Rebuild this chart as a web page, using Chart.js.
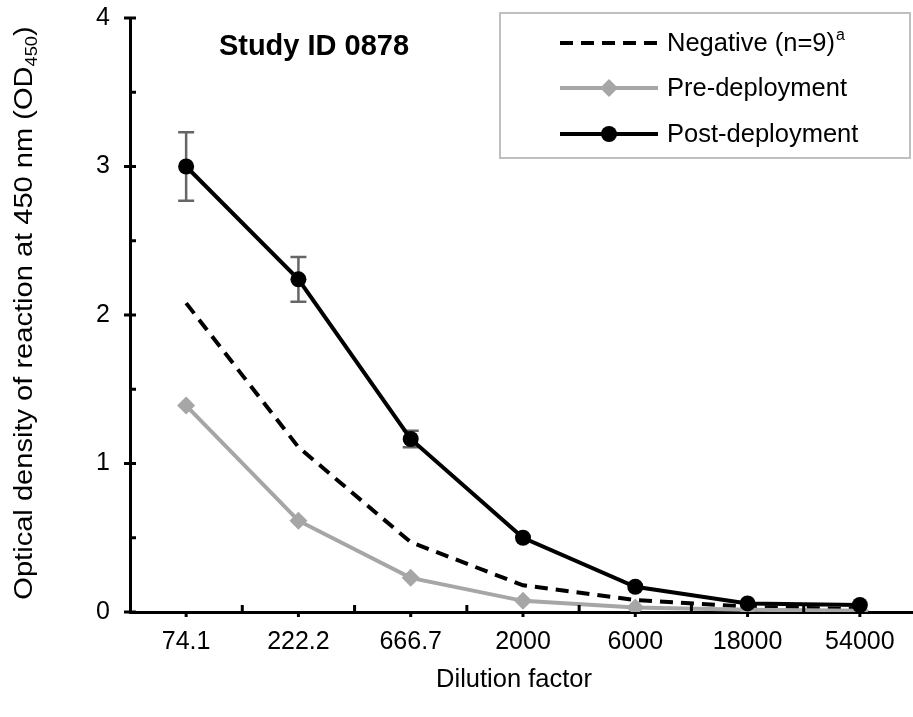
<!DOCTYPE html>
<html>
<head>
<meta charset="utf-8">
<script src="https://cdn.jsdelivr.net/npm/chart.js@4"></script>
<style>
  html, body { margin: 0; padding: 0; background: #fff; overflow: hidden; }
</style>
</head>
<body>
<canvas id="odChart" width="925" height="717"></canvas>
<script>
const categories = ['74.1', '222.2', '666.7', '2000', '6000', '18000', '54000'];
const negative = [2.08, 1.11, 0.47, 0.18, 0.08, 0.035, 0.02];
const preDeployment = [1.39, 0.615, 0.23, 0.075, 0.03, 0.015, 0.008];
const postDeployment = [3.00, 2.24, 1.165, 0.50, 0.17, 0.058, 0.047];
const postError = [0.23, 0.15, 0.055, 0, 0, 0, 0];
const yTicks = [0, 1, 2, 3, 4];

const FONT = '"Liberation Sans", Arial, sans-serif';

function drawText(ctx, text, x, y, font, align) {
  ctx.font = font;
  ctx.textAlign = align || 'center';
  ctx.textBaseline = 'middle';
  ctx.fillText(text, x, y);
}

// error bars behind the post-deployment line
const errorBars = {
  id: 'errorBars',
  beforeDatasetsDraw(chart) {
    const ctx = chart.ctx;
    const x = chart.scales.x, y = chart.scales.y;
    ctx.save();
    ctx.strokeStyle = '#666666';
    ctx.lineWidth = 2.5;
    postDeployment.forEach(function (v, i) {
      const e = postError[i];
      if (!e) return;
      const px = x.getPixelForValue(i);
      const top = y.getPixelForValue(v + e), bot = y.getPixelForValue(v - e);
      ctx.beginPath();
      ctx.moveTo(px, top); ctx.lineTo(px, bot);
      ctx.moveTo(px - 8, top); ctx.lineTo(px + 8, top);
      ctx.moveTo(px - 8, bot); ctx.lineTo(px + 8, bot);
      ctx.stroke();
    });
    ctx.restore();
  }
};

const decorations = {
  id: 'decorations',
  afterDraw(chart) {
    const ctx = chart.ctx;
    const area = chart.chartArea;
    const x = chart.scales.x, y = chart.scales.y;
    ctx.save();
    ctx.strokeStyle = '#000';
    ctx.lineWidth = 3;
    ctx.beginPath();
    // y ticks: major cross the axis, minor inside
    for (let v = 0; v <= 4; v += 0.5) {
      const py = y.getPixelForValue(v);
      const major = Number.isInteger(v);
      ctx.moveTo(area.left - (major ? 6 : 0), py);
      ctx.lineTo(area.left + 6, py);
    }
    // x ticks: boundaries up, centers down
    const half = (x.getPixelForValue(1) - x.getPixelForValue(0)) / 2;
    for (let i = 0; i < categories.length; i++) {
      const c = x.getPixelForValue(i);
      ctx.moveTo(c, area.bottom); ctx.lineTo(c, area.bottom + 5);
      ctx.moveTo(c + half, area.bottom); ctx.lineTo(c + half, area.bottom - 7);
    }
    ctx.stroke();

    ctx.fillStyle = '#000';
    // tick labels
    categories.forEach(function (lab, i) {
      drawText(ctx, lab, x.getPixelForValue(i), 642, '25px ' + FONT, 'center');
    });
    yTicks.forEach(function (v) {
      drawText(ctx, String(v), 110, y.getPixelForValue(v), '25px ' + FONT, 'right');
    });

    // title
    drawText(ctx, 'Study ID 0878', 314, 47, 'bold 29px ' + FONT, 'center');

    // x title
    drawText(ctx, 'Dilution factor', 514, 680, '25.5px ' + FONT, 'center');

    // y title with subscript, a little stretched along its length
    ctx.save();
    ctx.translate(23, 313);
    ctx.rotate(-Math.PI / 2);
    ctx.scale(1.14, 1);
    const main = 'Optical density of reaction at 450 nm (OD';
    ctx.font = '25.5px ' + FONT;
    const wMain = ctx.measureText(main).width;
    ctx.font = '16px ' + FONT;
    const wSub = ctx.measureText('450').width;
    ctx.font = '25.5px ' + FONT;
    const wEnd = ctx.measureText(')').width;
    let sx = -(wMain + wSub + wEnd) / 2;
    ctx.textAlign = 'left';
    ctx.textBaseline = 'alphabetic';
    ctx.fillText(main, sx, 9);
    sx += wMain;
    ctx.font = '16px ' + FONT;
    ctx.fillText('450', sx, 14);
    sx += wSub;
    ctx.font = '25.5px ' + FONT;
    ctx.fillText(')', sx, 9);
    ctx.restore();

    // legend
    ctx.strokeStyle = '#bfbfbf';
    ctx.lineWidth = 2;
    ctx.strokeRect(500, 13, 410, 145);
    const rows = [43, 88, 134];
    chart.data.datasets.forEach(function (ds, i) {
      const ly = rows[i];
      ctx.strokeStyle = ds.borderColor;
      ctx.lineWidth = ds.borderWidth;
      ctx.setLineDash(ds.borderDash || []);
      ctx.beginPath();
      ctx.moveTo(560, ly); ctx.lineTo(658, ly);
      ctx.stroke();
      ctx.setLineDash([]);
      ctx.fillStyle = ds.pointBackgroundColor;
      if (ds.pointStyle === 'circle' && ds.pointRadius) {
        ctx.beginPath(); ctx.arc(609, ly, ds.pointRadius, 0, Math.PI * 2); ctx.fill();
      } else if (ds.pointStyle === 'rectRot' && ds.pointRadius) {
        const r = ds.pointRadius;
        ctx.beginPath();
        ctx.moveTo(609, ly - r); ctx.lineTo(609 + r, ly); ctx.lineTo(609, ly + r); ctx.lineTo(609 - r, ly);
        ctx.closePath(); ctx.fill();
      }
      ctx.fillStyle = '#000';
      drawText(ctx, ds.label, 667, ly + 1, '25.5px ' + FONT, 'left');
      if (ds.label.startsWith('Negative')) {
        ctx.font = '25.5px ' + FONT;
        const w = ctx.measureText(ds.label).width;
        drawText(ctx, 'a', 667 + w + 1, ly - 7, '16px ' + FONT, 'left');
      }
    });
    ctx.restore();
  }
};

const ctx = document.getElementById('odChart').getContext('2d');
const odChart = new Chart(ctx, {
  type: 'line',
  data: {
    labels: categories,
    datasets: [{
      label: 'Negative (n=9)',
      data: negative,
      borderColor: '#000000',
      borderWidth: 4,
      borderDash: [13, 8],
      pointRadius: 0,
      pointStyle: 'circle',
      pointBackgroundColor: '#000000',
      order: 2
    },
    {
      label: 'Pre-deployment',
      data: preDeployment,
      borderColor: '#a6a6a6',
      borderWidth: 4,
      pointStyle: 'rectRot',
      pointRadius: 9,
      pointBackgroundColor: '#a6a6a6',
      pointBorderWidth: 0,
      order: 1
    },
    {
      label: 'Post-deployment',
      data: postDeployment,
      borderColor: '#000000',
      borderWidth: 4,
      pointStyle: 'circle',
      pointRadius: 8,
      pointBackgroundColor: '#000000',
      pointBorderWidth: 0,
      order: 0
    }]
  },
  options: {
    responsive: false,
    animation: false,
    devicePixelRatio: 1,
    layout: { padding: { top: 18, right: 2, left: 0, bottom: 0 } },
    plugins: {
      legend: { display: false },
      tooltip: { enabled: false }
    },
    scales: {
      x: {
        offset: true,
        grid: { display: false, drawTicks: false },
        border: { display: true, color: '#000', width: 3 },
        ticks: { display: false },
        afterFit(scale) { scale.height = 105; }
      },
      y: {
        min: 0,
        max: 4,
        afterBuildTicks(scale) { scale.ticks = yTicks.map(v => ({ value: v })); },
        grid: { display: false, drawTicks: false },
        border: { display: true, color: '#000', width: 3 },
        ticks: { display: false },
        afterFit(scale) { scale.width = 130; }
      }
    }
  },
  plugins: [errorBars, decorations]
});
</script>
</body>
</html>
